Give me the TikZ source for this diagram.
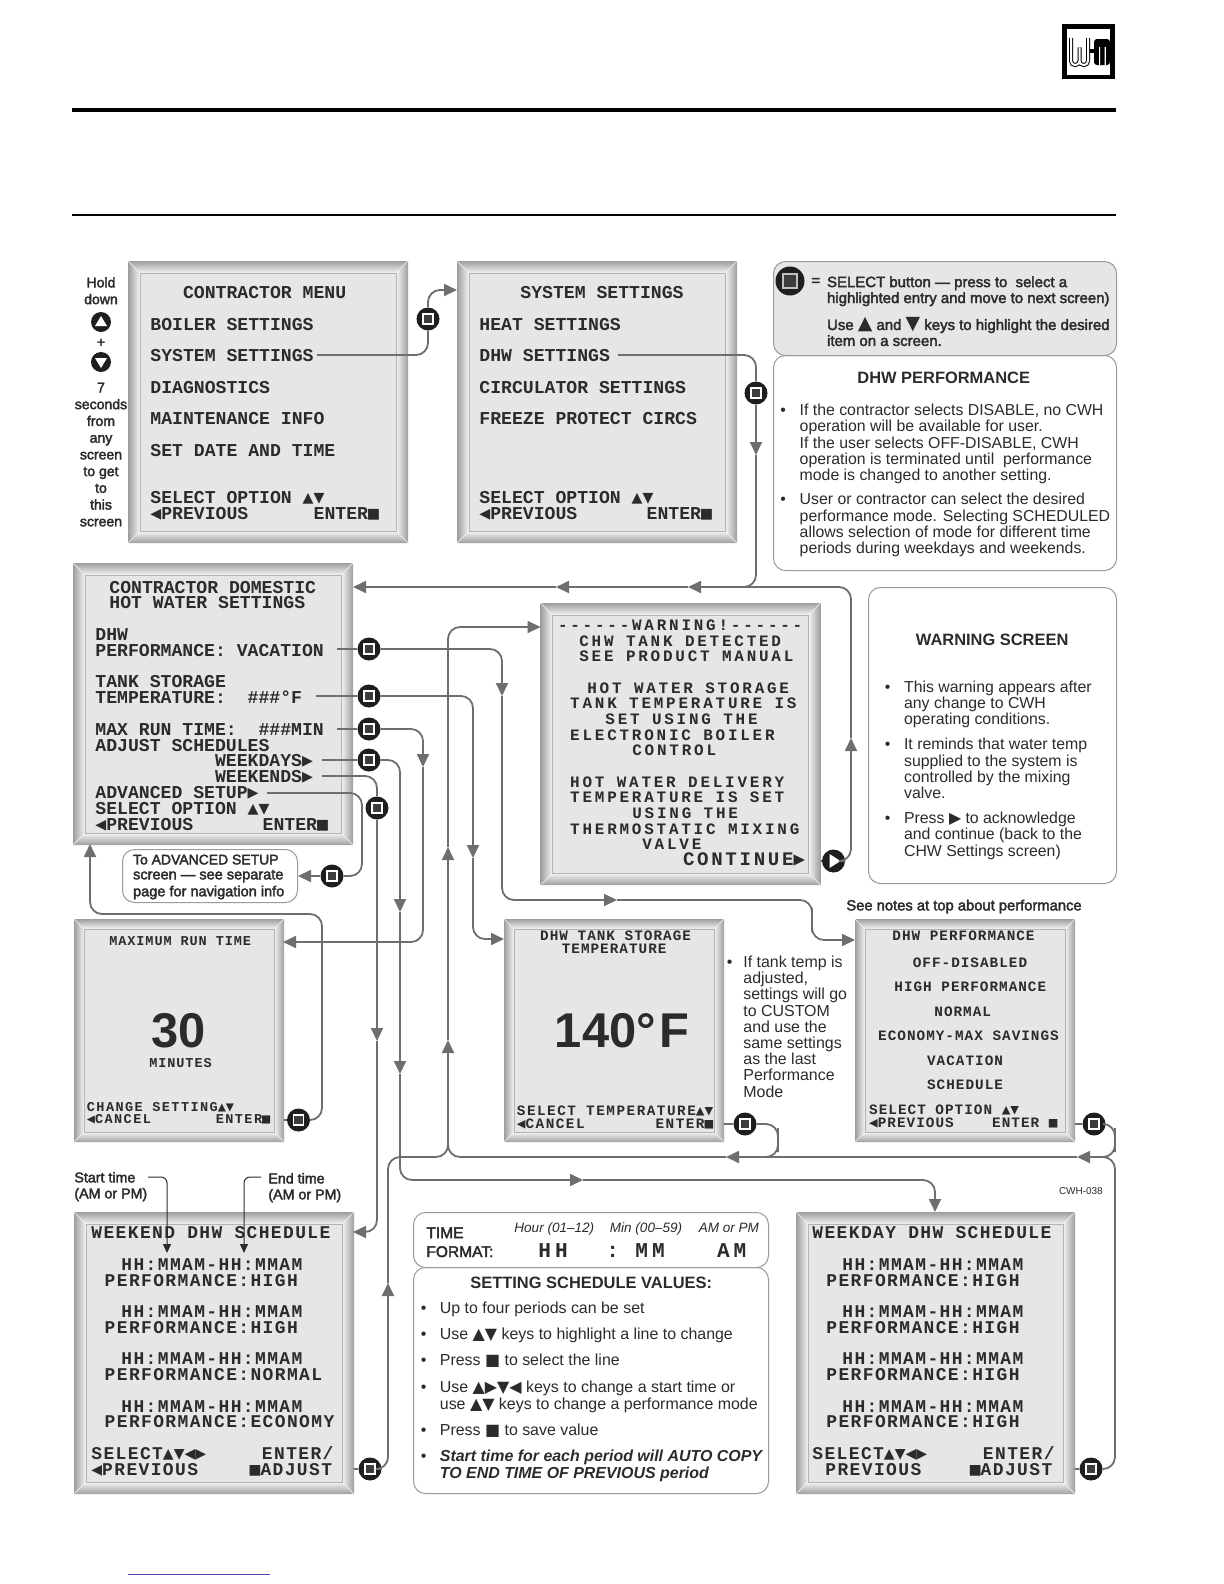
\documentclass[tikz,border=0pt]{standalone}
\usepackage{fontspec}
\usepackage{newunicodechar}
\setmainfont{Liberation Sans}
\newfontfamily\medfont{Liberation Sans}[FakeBold=2.5]
\newfontfamily\lcdfont{Liberation Mono}
\newfontfamily\lcdwarn{Liberation Mono}[LetterSpace=17.5]
\newfontfamily\lcdcont{Liberation Mono}[LetterSpace=14]
\newfontfamily\lcdsched{Liberation Mono}[LetterSpace=7.8]
\newfontfamily\lcdsmall{Liberation Mono}[LetterSpace=7]
\newfontfamily\lcdsel{Liberation Mono}[LetterSpace=10.5]
\newfontfamily\lcdtiny{Liberation Mono}[LetterSpace=6.6]
\newfontfamily\lcdfmt{Liberation Mono}[LetterSpace=19]
\newfontfamily\sansmarks{DejaVu Sans}
\newfontfamily\lcdmarks{DejaVu Sans Mono}
\let\markfont\sansmarks
\newunicodechar{▲}{{\markfont\char"25B2}}
\newunicodechar{▼}{{\markfont\char"25BC}}
\newunicodechar{◄}{{\markfont\char"25C0}}
\newunicodechar{►}{{\markfont\char"25B6}}
\newunicodechar{■}{{\markfont\char"25A0}}
\usetikzlibrary{arrows.meta,calc}
\definecolor{lcdgrey}{HTML}{E6E6E6}
\definecolor{lcdink}{HTML}{2B2B2B}
\definecolor{bezeldark}{HTML}{9E9E9E}
\definecolor{bezelrim}{HTML}{B4B4B4}
\definecolor{bezellight}{HTML}{F4F4F4}
\definecolor{panelline}{HTML}{9A9A9A}
\definecolor{wiregrey}{HTML}{6E6E6E}
\definecolor{btnblack}{HTML}{1E1E1E}
\definecolor{btnsq}{HTML}{3C3C3C}
\definecolor{linkblue}{HTML}{4A4AB0}
\newdimen\pxu \pxu=0.5bp
\newcommand\ind[1]{\hspace*{#1\pxu}}
\newcommand\bul[1]{\makebox[#1\pxu][l]{•}}
\newcommand\rowskip{\\[\baselineskip]}
\newcommand\toprow{\rule{0pt}{40\pxu}}
\newcommand\lcdsize{\let\markfont\lcdmarks\bfseries}
\newcommand\bezel[2]{%
  \shade[top color=bezeldark,bottom color=bezellight] (#1.north west)--(#1.north east)--($(#1.north east)+(-#2,#2)$)--($(#1.north west)+(#2,#2)$)--cycle;
  \shade[top color=bezellight,bottom color=bezeldark] (#1.south west)--(#1.south east)--($(#1.south east)+(-#2,-#2)$)--($(#1.south west)+(#2,-#2)$)--cycle;
  \shade[left color=bezeldark,right color=bezellight] (#1.north west)--(#1.south west)--($(#1.south west)+(#2,-#2)$)--($(#1.north west)+(#2,#2)$)--cycle;
  \shade[left color=bezellight,right color=bezeldark] (#1.north east)--(#1.south east)--($(#1.south east)+(-#2,-#2)$)--($(#1.north east)+(-#2,#2)$)--cycle;
  \draw[bezellight,line width=.3bp] (#1.north west)--+(#2,#2) (#1.north east)--+(-#2,#2) (#1.south west)--+(#2,-#2) (#1.south east)--+(-#2,-#2);
  \draw[bezelrim,line width=.4bp] ($(#1.north west)+(#2,#2)$) rectangle ($(#1.south east)+(-#2,-#2)$);}
\tikzset{
  screen/.style={rectangle, draw=bezeldark, line width=.5bp, fill=lcdgrey, inner sep=0pt, anchor=north west},
  screenbig/.style={screen, minimum width=279\pxu, minimum height=281\pxu},
  screensmall/.style={screen, minimum width=219\pxu, minimum height=222\pxu},
  panel/.style={rectangle, rounded corners=6bp, draw=panelline, line width=.5bp, inner sep=0pt, anchor=north west},
  txt/.style={anchor=north west, inner sep=0pt, align=left, yshift=40\pxu, text=lcdink,
    execute at begin node={\toprow}},
  txtmid/.style={txt, anchor=north, align=center},
  lcdtxt/.style={txt, font=\lcdfont\lcdsize\fontsize{9.1}{7.93}\selectfont},
  warntxt/.style={txt, font=\lcdwarn\lcdsize\fontsize{8}{7.87}\selectfont},
  schedtxt/.style={txt, font=\lcdsched\lcdsize\fontsize{9}{7.91}\selectfont},
  smalltxt/.style={txt, font=\lcdsmall\lcdsize\fontsize{7.2}{6.32}\selectfont},
  seltxt/.style={txt, font=\lcdsel\lcdsize\fontsize{7.2}{6.32}\selectfont},
  tinytxt/.style={txt, font=\lcdtiny\lcdsize\fontsize{6.8}{6.05}\selectfont},
  tinysel/.style={txt, font=\lcdsel\lcdsize\fontsize{6.8}{6.05}\selectfont},
  bigtxt/.style={txt, font=\bfseries\fontsize{24.5}{26}\selectfont},
  fmttxt/.style={txt, font=\lcdfmt\bfseries\fontsize{10.6}{12}\selectfont},
  bodytxt/.style={txt, font=\fontsize{7.95}{8.18}\selectfont},
  schedbody/.style={txt, font=\fontsize{8}{8.6}\selectfont},
  headtxt/.style={txt, font=\bfseries\fontsize{8.25}{10}\selectfont},
  medtxt/.style={txt, font=\medfont\fontsize{7.5}{8}\selectfont},
  sidetxt/.style={txtmid, font=\medfont\fontsize{7.05}{8.4}\selectfont},
  hourtxt/.style={txt, font=\itshape\fontsize{6.8}{8}\selectfont},
  btn/.style={circle, fill=btnblack, inner sep=0pt, minimum size=23\pxu, path picture={
    \draw[white,line width=.6bp,fill=btnsq] ($(path picture bounding box.center)+(-5,-5)$) rectangle +(10,10);}},
  btnkey/.style={circle, fill=btnblack, inner sep=0pt, minimum size=29\pxu, path picture={
    \draw[white!75!black,line width=.7bp,fill=btnsq] ($(path picture bounding box.center)+(-7,-7)$) rectangle +(14,14);}},
  btnplay/.style={circle, fill=btnblack, inner sep=0pt, minimum size=23\pxu, path picture={
    \fill[white] ($(path picture bounding box.center)+(-4,-7)$) -- +(11,7) -- +(0,14) -- cycle;}},
  btnup/.style={circle, fill=btnblack, inner sep=0pt, minimum size=20\pxu, path picture={
    \fill[white] ($(path picture bounding box.center)+(-6,4)$) -- +(6,-10) -- +(12,0) -- cycle;}},
  btndown/.style={circle, fill=btnblack, inner sep=0pt, minimum size=20\pxu, path picture={
    \fill[white] ($(path picture bounding box.center)+(-6,-4)$) -- +(6,10) -- +(12,0) -- cycle;}},
  wire/.style={draw=wiregrey, line width=.9bp, rounded corners=6bp},
  wiretip/.style={wire, -{Triangle[length=6.5bp,width=6bp]}},
  leader/.style={draw=lcdink, line width=.5bp, rounded corners=3bp, -{Triangle[length=4.5bp,width=4bp]}},
}
\begin{document}
\begin{tikzpicture}[x=0.5bp,y=-0.5bp]
  \useasboundingbox (0,0) rectangle (1224,1584);
  \fill[white] (0,0) rectangle (1224,1584);
  % page head
  \draw[black,line width=2.5pt] (1064.5,26.5) rectangle (1112,77);
  \draw[black,line width=2bp,rounded corners=2bp] (1071,38)--(1071,65)--(1079.5,65)--(1079.5,45)--(1079.5,65)--(1088,65)--(1088,38);
  \draw[white,line width=1bp,rounded corners=2bp] (1071,38)--(1071,65)--(1079.5,65)--(1079.5,45)--(1079.5,65)--(1088,65)--(1088,38);
  \fill[black] (1090,49) rectangle (1095,53);
  \fill[black,rounded corners=1.5bp] (1094,39) rectangle (1110,65);
  \fill[white] (1099,47) rectangle (1100.2,65) (1104.6,47) rectangle (1105.8,65);
  \draw[black,line width=2.4bp] (72,110)--(1116,110);
  \draw[black,line width=.9bp] (72,215)--(1116,215);
  \draw[linkblue,line width=.5bp] (128,1574)--(270,1574);

  % screens
  \node[screenbig](menu) at (128,261){};
  \node[screenbig](sys) at (457,261){};
  \node[screenbig](ctr) at (73,563){};
  \node[screenbig](warn) at (540.5,603){};
  \node[screensmall,minimum width=209\pxu](maxrun) at (74,919){};
  \node[screensmall](tank) at (504,919){};
  \node[screensmall](perf) at (855,919){};
  \node[screenbig](wend) at (74,1212){};
  \node[screenbig,minimum width=278\pxu](wday) at (796,1212){};
  \foreach \scr/\bz in {menu/12,sys/12,ctr/12,warn/12,maxrun/10,tank/10,perf/10,wend/12,wday/12}{\bezel{\scr}{\bz}}

  % panels
  \node[panel,fill=lcdgrey,minimum width=343\pxu,minimum height=94\pxu](keys) at (773,261){};
  \node[panel,minimum width=343\pxu,minimum height=215\pxu](perfnote) at (773,355){};
  \node[panel,minimum width=248\pxu,minimum height=296\pxu](warnnote) at (868,587){};
  \node[panel,minimum width=175\pxu,minimum height=53\pxu](advnote) at (122,849){};
  \node[panel,minimum width=355\pxu,minimum height=55\pxu](fmtnote) at (413,1212){};
  \node[panel,minimum width=355\pxu,minimum height=226\pxu](setnote) at (413,1267){};

  % buttons
  \node[btn](bsys) at (428,319){};
  \node[btn](bdhw) at (756,393){};
  \node[btn](bperf) at (369,649){};
  \node[btn](btank) at (369,696){};
  \node[btn](bmax) at (369,729){};
  \node[btn](bwd) at (369,760){};
  \node[btn](bwe) at (377,808){};
  \node[btn](badv) at (332,876){};
  \node[btnplay](bcont) at (833.5,861){};
  \node[btn](bmaxent) at (298.5,1120){};
  \node[btn](btankent) at (745,1124){};
  \node[btn](bperfent) at (1094,1124){};
  \node[btn](bwendent) at (370,1469){};
  \node[btn](bwdayent) at (1091,1469){};
  \node[btnkey](bkey) at (790,281){};
  \node[btnup](bup) at (101,322){};
  \node[btndown](bdown) at (101,362){};

  % free ends and mid arrows
  \coordinate(sysout) at (317,355);
  \coordinate(sysin) at (457,290);
  \coordinate(dhwout) at (618,355);
  \coordinate(dhwtip) at (756,455);
  \coordinate(dhwjoin) at (735,587);
  \coordinate(conttip) at (851,738);
  \coordinate(ctrtipa) at (688,587);
  \coordinate(ctrtipb) at (556,587);
  \coordinate(ctrin) at (353,587);
  \coordinate(perfout) at (337,649);
  \coordinate(perftipa) at (502,696);
  \coordinate(perftipb) at (617,900);
  \coordinate(perfbend) at (812,920);
  \coordinate(perfin) at (855,940);
  \coordinate(tankout) at (316,696);
  \coordinate(tanktip) at (473,858);
  \coordinate(tankin) at (504,939);
  \coordinate(maxout) at (337,729);
  \coordinate(maxtip) at (423,767);
  \coordinate(maxin) at (283,942);
  \coordinate(wdout) at (322,760);
  \coordinate(wdtipa) at (400,912);
  \coordinate(wdtipb) at (400,1074);
  \coordinate(wdtipc) at (583,1180);
  \coordinate(wdayin) at (935,1212);
  \coordinate(weout) at (322,776);
  \coordinate(wetip) at (377,1041);
  \coordinate(wendin) at (353,1232);
  \coordinate(advout) at (267,793);
  \coordinate(advbend) at (362,830);
  \coordinate(maxbend) at (322,914);
  \coordinate(ctrup) at (90,844);
  \coordinate(tankbend) at (778,1140);
  \coordinate(tankjoin) at (760,1157);
  \coordinate(perfdrop) at (1115,1140);
  \coordinate(wdayrise) at (1115,1300);
  \coordinate(mainjoin) at (1095,1157);
  \coordinate(maintipa) at (1077,1157);
  \coordinate(maintipb) at (726,1157);
  \coordinate(upbend) at (448,1157);
  \coordinate(uptipa) at (448,1040);
  \coordinate(uptipb) at (448,847);
  \coordinate(warnin) at (540.5,627);
  \coordinate(wendtip) at (388,1283);
  \coordinate(upjoin) at (448,1120);
  \coordinate(startfrom) at (148,1177);
  \coordinate(starttip) at (167,1253);
  \coordinate(endfrom) at (261,1177);
  \coordinate(endtip) at (244,1253);

  % connectors
  \draw[wire](sysout)-|(bsys);
  \draw[wiretip](bsys)|-(sysin);
  \draw[wire](dhwout)-|(bdhw);
  \draw[wiretip](bdhw)--(dhwtip);
  \draw[wire](dhwtip)|-(dhwjoin);
  \draw[wire](warn.east|-bcont)--(bcont);
  \draw[wiretip](bcont)-|(conttip);
  \draw[wiretip](conttip)|-(ctrtipa);
  \draw[wiretip](ctrtipa)--(ctrtipb);
  \draw[wiretip](ctrtipb)--(ctrin);
  \draw[wire](perfout)--(bperf);
  \draw[wiretip](bperf)-|(perftipa);
  \draw[wiretip](perftipa)|-(perftipb);
  \draw[wiretip](perftipb)-|(perfbend)|-(perfin);
  \draw[wire](tankout)--(btank);
  \draw[wiretip](btank)-|(tanktip);
  \draw[wiretip](tanktip)|-(tankin);
  \draw[wire](maxout)--(bmax);
  \draw[wiretip](bmax)-|(maxtip);
  \draw[wiretip](maxtip)|-(maxin);
  \draw[wire](wdout)--(bwd);
  \draw[wiretip](bwd)-|(wdtipa);
  \draw[wiretip](wdtipa)--(wdtipb);
  \draw[wiretip](wdtipb)|-(wdtipc);
  \draw[wiretip](wdtipc)-|(wdayin);
  \draw[wire](weout)-|(bwe);
  \draw[wiretip](bwe)--(wetip);
  \draw[wiretip](wetip)|-(wendin);
  \draw[wire](advout)-|(advbend)|-(badv);
  \draw[wiretip](badv)--(advnote.east|-badv);
  \draw[wire](maxrun.east|-bmaxent)--(bmaxent);
  \draw[wiretip](bmaxent)-|(maxbend)-|(ctrup);
  \draw[wire](tank.east|-btankent)--(btankent);
  \draw[wire](btankent)-|(tankbend)|-(tankjoin);
  \draw[wire](perf.east|-bperfent)--(bperfent);
  \draw[wire](bperfent)-|(perfdrop)|-(mainjoin);
  \draw[wire](wday.east|-bwdayent)--(bwdayent);
  \draw[wire](bwdayent)-|(wdayrise)|-(mainjoin);
  \draw[wiretip](mainjoin)--(maintipa);
  \draw[wiretip](maintipa)--(maintipb);
  \draw[wire](maintipb)-|(upjoin);
  \draw[wire](wend.east|-bwendent)--(bwendent);
  \draw[wiretip](bwendent)-|(wendtip);
  \draw[wire](wendtip)|-(upbend)--(upjoin);
  \draw[wiretip](upjoin)--(uptipa);
  \draw[wiretip](uptipa)--(uptipb);
  \draw[wiretip](uptipb)|-(warnin);
  \draw[leader](startfrom)-|(starttip);
  \draw[leader](endfrom)-|(endtip);

  % screen texts
  \node[lcdtxt](menutxt) at (150,298){\toprow~~~CONTRACTOR MENU\rowskip BOILER SETTINGS\rowskip SYSTEM SETTINGS\rowskip DIAGNOSTICS\rowskip MAINTENANCE INFO\rowskip SET DATE AND TIME\\[2\baselineskip]SELECT OPTION ▲▼\\◄PREVIOUS~~~~~~ENTER■};
  \node[lcdtxt](systxt) at (479,298){\toprow\ind{41}SYSTEM SETTINGS\rowskip HEAT SETTINGS\rowskip DHW SETTINGS\rowskip CIRCULATOR SETTINGS\rowskip FREEZE PROTECT CIRCS\\[4\baselineskip]SELECT OPTION ▲▼\\◄PREVIOUS~~~~~~\ind{4}ENTER■};
  \node[lcdtxt](ctrtxt) at (95,592.7){\toprow\ind{14}CONTRACTOR DOMESTIC\\\ind{14}HOT WATER SETTINGS\rowskip DHW\\PERFORMANCE: VACATION\rowskip TANK STORAGE\\TEMPERATURE:~~\#\#\#°F\rowskip MAX RUN TIME:~~\#\#\#MIN\\ADJUST SCHEDULES\\~~~~~~~~~~~WEEKDAYS►\\~~~~~~~~~~~WEEKENDS►\\ADVANCED SETUP►\\SELECT OPTION ▲▼\\◄PREVIOUS~~~~~~\ind{4}ENTER■};
  \node[warntxt](warntext) at (557.6,630){\toprow------WARNING!------\\\ind{21.4}CHW TANK DETECTED\\\ind{21.4}SEE PRODUCT MANUAL\rowskip\ind{29.4}HOT WATER STORAGE\\\ind{12.2}TANK TEMPERATURE IS\\\ind{47.4}SET USING THE\\\ind{12.2}ELECTRONIC BOILER\\\ind{74.4}CONTROL\rowskip\ind{12.2}HOT WATER DELIVERY\\\ind{12.2}TEMPERATURE IS SET\\\ind{74.4}USING THE\\\ind{12.2}THERMOSTATIC MIXING\\\ind{84.4}VALVE\\\ind{125}{\lcdcont\fontsize{9.6}{7.87}\selectfont CONTINUE►}};
  \node[tinytxt](maxtitle) at (109,945){MAXIMUM RUN TIME};
  \node[bigtxt](maxval) at (151,1046.7){30};
  \node[tinytxt](maxunit) at (149,1066.7){MINUTES};
  \node[tinysel](maxsel) at (86.5,1110.7){\toprow CHANGE SETTING▲▼\\◄CANCEL~~~~~~~\ind{-2}ENTER■};
  \node[smalltxt](tanktitle) at (539.8,940){\toprow DHW TANK STORAGE\\\ind{21.6}TEMPERATURE};
  \node[bigtxt](tankval) at (554.5,1046.7){140°\ind{4}F};
  \node[seltxt](tanksel) at (516.5,1115){\toprow SELECT TEMPERATURE▲▼\\◄CANCEL~~~~~~~ENTER■};
  \node[smalltxt](perftxt) at (868.8,940){\toprow\ind{23.2}DHW PERFORMANCE\\[14\pxu]\ind{43.6}OFF-DISABLED\\[12\pxu]\ind{25.2}HIGH PERFORMANCE\\[12\pxu]\ind{65.2}NORMAL\\[12\pxu]\ind{9}ECONOMY-MAX SAVINGS\\[12\pxu]\ind{57.9}VACATION\\[12\pxu]\ind{57.9}SCHEDULE\\[12\pxu]SELECT OPTION ▲▼\\◄PREVIOUS~~~~ENTER ■};
  \node[schedtxt](wendtxt) at (91,1238.3){\toprow WEEKEND DHW SCHEDULE\rowskip\ind{30}HH:MMAM-HH:MMAM\\\ind{13.3}PERFORMANCE:HIGH\rowskip\ind{30}HH:MMAM-HH:MMAM\\\ind{13.3}PERFORMANCE:HIGH\rowskip\ind{30}HH:MMAM-HH:MMAM\\\ind{13.3}PERFORMANCE:NORMAL\rowskip\ind{30}HH:MMAM-HH:MMAM\\\ind{13.3}PERFORMANCE:ECONOMY\rowskip SELECT▲▼◄►~~~~~\ind{-5}ENTER/\\◄PREVIOUS~~~~\ind{3}■ADJUST};
  \node[schedtxt](wdaytxt) at (812,1238.3){\toprow WEEKDAY DHW SCHEDULE\rowskip\ind{30}HH:MMAM-HH:MMAM\\\ind{14}PERFORMANCE:HIGH\rowskip\ind{30}HH:MMAM-HH:MMAM\\\ind{14}PERFORMANCE:HIGH\rowskip\ind{30}HH:MMAM-HH:MMAM\\\ind{14}PERFORMANCE:HIGH\rowskip\ind{30}HH:MMAM-HH:MMAM\\\ind{14}PERFORMANCE:HIGH\rowskip SELECT▲▼◄►~~~~~\ind{-5}ENTER/\\\ind{13}PREVIOUS~~~~■ADJUST};

  % notes
  \node[sidetxt](holdtxt) at (101,287){\toprow Hold\\down};
  \node[sidetxt](plustxt) at (101,346.5){+};
  \node[sidetxt](secstxt) at (101,392){\toprow 7\\seconds\\from\\any\\screen\\to get\\to\\this\\screen};
  \node[medtxt](eqtxt) at (811,285){=};
  \node[medtxt](keystxt) at (826.7,286.7){\toprow SELECT button — press to~ select a\\highlighted entry and move to next screen)\\[11\pxu]Use {\fontsize{9.5}{8}\selectfont▲} and {\fontsize{9.5}{8}\selectfont▼} keys to highlight the desired\\item on a screen.};
  \node[headtxt](perfhead) at (857,383.3){DHW PERFORMANCE};
  \node[bodytxt](perfbody) at (780,415){\toprow\bul{19.3}If the contractor selects DISABLE, no CWH\\\ind{19.3}operation will be available for user.\\\ind{19.3}If the user selects OFF-DISABLE, CWH\\\ind{19.3}operation is terminated until~ performance\\\ind{19.3}mode is changed to another setting.\\[8\pxu]\bul{19.3}User or contractor can select the desired\\\ind{19.3}performance mode. Selecting SCHEDULED\\\ind{19.3}allows selection of mode for different time\\\ind{19.3}periods during weekdays and weekends.};
  \node[headtxt](warnhead) at (915.5,645){WARNING SCREEN};
  \node[bodytxt](warnbody) at (884.5,691.7){\toprow\bul{19.2}This warning appears after\\\ind{19.2}any change to CWH\\\ind{19.2}operating conditions.\\[8.7\pxu]\bul{19.2}It reminds that water temp\\\ind{19.2}supplied to the system is\\\ind{19.2}controlled by the mixing\\\ind{19.2}valve.\\[8.7\pxu]\bul{19.2}Press ► to acknowledge\\\ind{19.2}and continue (back to the\\\ind{19.2}CHW Settings screen)};
  \node[medtxt,font=\medfont\fontsize{7}{8}\selectfont](advtxt) at (132.7,864){\toprow To ADVANCED SETUP\\[-1\pxu]{\fontsize{7.3}{8}\selectfont screen — see separate}\\[1\pxu]{\fontsize{7.3}{8}\selectfont page for navigation info}};
  \node[medtxt,font=\medfont\fontsize{7.4}{8}\selectfont](seenotes) at (846,910){See notes at top about performance};
  \node[bodytxt,font=\fontsize{8}{8.13}\selectfont](tanknote) at (726.5,967){\toprow\bul{16.5}If tank temp is\\\ind{16.5}adjusted,\\\ind{16.5}settings will go\\\ind{16.5}to CUSTOM\\\ind{16.5}and use the\\\ind{16.5}same settings\\\ind{16.5}as the last\\\ind{16.5}Performance\\\ind{16.5}Mode};
  \node[txt,font=\fontsize{5}{6}\selectfont](cwh) at (1058.6,1194){CWH-038};
  \node[medtxt,font=\medfont\fontsize{7.15}{8}\selectfont](starttxt) at (74,1182){\toprow Start time\\(AM or PM)};
  \node[medtxt,font=\medfont\fontsize{7.15}{8}\selectfont](endtxt) at (268,1183){\toprow End time\\(AM or PM)};
  \node[medtxt,font=\medfont\fontsize{7.8}{9.5}\selectfont](fmtlabel) at (426,1237.7){\toprow TIME\\FORMAT:};
  \node[hourtxt](hourtxt) at (514,1231.7){Hour (01–12)};
  \node[hourtxt](mintxt) at (609.5,1231.7){Min (00–59)};
  \node[hourtxt](ampmtxt) at (698.4,1231.7){AM or PM};
  \node[fmttxt](fmth) at (538,1256.7){HH};
  \node[fmttxt](fmtc) at (606,1256.7){:};
  \node[fmttxt](fmtm) at (635,1256.7){MM};
  \node[fmttxt](fmta) at (716.6,1256.7){AM};
  \node[headtxt](sethead) at (470,1288){SETTING SCHEDULE VALUES:};
  \node[schedbody](setbody) at (420.5,1313.3){\toprow\bul{19}Up to four periods can be set\\[9\pxu]\bul{19}Use ▲▼ keys to highlight a line to change\\[9\pxu]\bul{19}Press ■ to select the line\\[9\pxu]\bul{19}Use ▲►▼◄ keys to change a start time or\\\ind{19}use ▲▼ keys to change a performance mode\\[9\pxu]\bul{19}Press ■ to save value\\[9\pxu]\bul{19}{\bfseries\itshape Start time for each period will AUTO COPY}\\\ind{19}{\bfseries\itshape TO END TIME OF PREVIOUS period}};
\end{tikzpicture}
\end{document}
